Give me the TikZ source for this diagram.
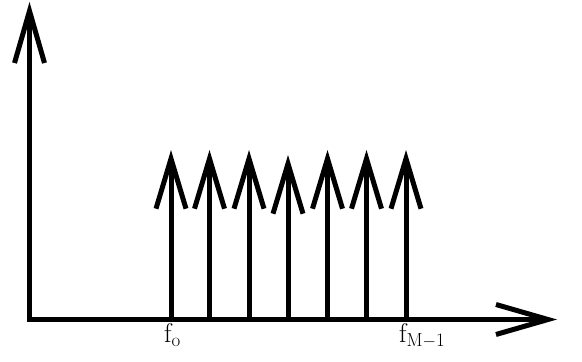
\documentclass[tikz,border=0pt]{standalone}
\usepackage{amsmath}
\usepackage{tikz}
\usetikzlibrary{arrows.meta,positioning,calc}
\tikzset{
  asse/.style={line width=5pt,-{Straight Barb[length=52pt,width=30pt]}},
  impulso/.style={line width=5pt,-{Straight Barb[length=50pt,width=30pt]}},
  etich/.style={inner sep=0pt,anchor=north west,font=\fontsize{27}{30}\selectfont}
}

\begin{document}
\begin{tikzpicture}[x=1pt,y=1pt]
  \useasboundingbox (0,0) rectangle (582,362);
  \coordinate (orig) at (29.5,42.5);
  \coordinate (ytip) at (29.5,360);
  \coordinate (xtip) at (557,42.5);
  \coordinate (ybase) at (29.5,40);
  \coordinate (xbase) at (27,42.5);
  \draw[asse] (ybase)--(ytip);
  \draw[asse] (xbase)--(xtip);
  % impulsi
  \coordinate (b1) at (171,42.5);   \coordinate (t1) at (171,212);
  \coordinate (b2) at (209.5,42.5); \coordinate (t2) at (209.5,212);
  \coordinate (b3) at (249,42.5);   \coordinate (t3) at (249,212);
  \coordinate (b4) at (288,42.5);   \coordinate (t4) at (288,207);
  \coordinate (b5) at (327.5,42.5); \coordinate (t5) at (327.5,212);
  \coordinate (b6) at (366.5,42.5); \coordinate (t6) at (366.5,212);
  \coordinate (b7) at (406,42.5);   \coordinate (t7) at (406,212);
  \draw[impulso] (b1)--(t1);
  \draw[impulso] (b2)--(t2);
  \draw[impulso] (b3)--(t3);
  \draw[impulso] (b4)--(t4);
  \draw[impulso] (b5)--(t5);
  \draw[impulso] (b6)--(t6);
  \draw[impulso] (b7)--(t7);
  \node[etich] (f0) at ($(b1)+(-7,-4)$) {f$_{\text{o}}$};
  \node[etich] (fM) at ($(b7)+(-7,-4)$) {f$_{\text{M}-\text{1}}$};
\end{tikzpicture}
\end{document}
